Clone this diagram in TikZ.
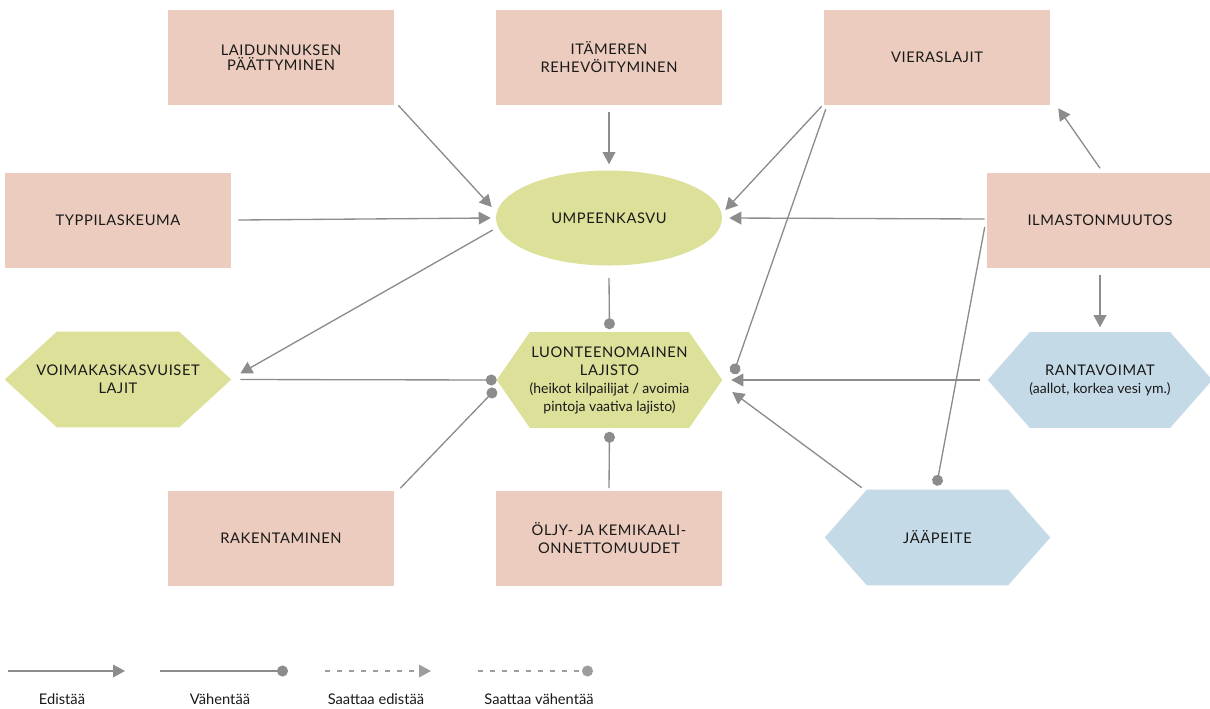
\documentclass[tikz,border=0pt]{standalone}
\usepackage{fontspec}
\setmainfont{Lato}
\newfontfamily\capsfont{Lato}[LetterSpace=4]
\usetikzlibrary{arrows.meta,shapes.geometric,calc,backgrounds}

\definecolor{boxpink}{RGB}{236,204,190}
\definecolor{hexgreen}{RGB}{220,224,152}
\definecolor{hexblue}{RGB}{197,218,231}
\definecolor{linec}{RGB}{140,140,140}
\definecolor{ink}{RGB}{25,25,25}

% lower-case lines inside the capital-letter labels
\newcommand\lowline{\normalfont\fontsize{10.5}{13.5}\selectfont}

% fill a flat-sided hexagon behind a rectangular node; #2 = corner inset in px
\newcommand\hexpanel[3]{%
  \fill[#3] (#1.west) -- ([xshift=#2*0.75pt]#1.north west)
    -- ([xshift=-#2*0.75pt]#1.north east) -- (#1.east)
    -- ([xshift=-#2*0.75pt]#1.south east)
    -- ([xshift=#2*0.75pt]#1.south west) -- cycle;}

\begin{document}
\begin{tikzpicture}[x=0.75pt,y=-0.75pt,
  txt/.style={font=\capsfont\fontsize{11}{13.5}\selectfont, text=ink, align=center},
  box/.style={txt, rectangle, fill=boxpink, minimum width=169.5pt,
              minimum height=71.25pt, inner sep=0pt},
  oval/.style={txt, ellipse, fill=hexgreen, minimum width=169.5pt,
               minimum height=71.25pt, inner sep=0pt},
  hexarea/.style={txt, rectangle, minimum height=71.25pt, inner sep=0pt},
  legtxt/.style={font=\fontsize{11}{13}\selectfont, text=ink},
  link/.style={draw=linec, line width=1pt},
  boost/.style={link, -{Triangle[length=9pt,width=9.5pt]}},
  cut/.style={link, -{Circle[length=8.25pt]}},
  maybe/.style={dash pattern=on 4pt off 5pt, draw=linec!85}
]
\useasboundingbox (0,0) rectangle (1210,708);

% driver boxes
\node[box, font=\capsfont\fontsize{11}{11.5}\selectfont] (lai) at (281,57.5)
  {LAIDUNNUKSEN\\PÄÄTTYMINEN};
\node[box] (ita) at (609,57.5)  {ITÄMEREN\\REHEVÖITYMINEN};
\node[box] (vie) at (937,57.5)  {VIERASLAJIT};
\node[box] (typ) at (118,220)   {TYPPILASKEUMA};
\node[box] (ilm) at (1100,220)  {ILMASTONMUUTOS};
\node[box] (rak) at (281,538)   {RAKENTAMINEN};
\node[box] (olj) at (609,538)   {ÖLJY- JA KEMIKAALI-\\ONNETTOMUUDET};

% central process
\node[oval] (ump) at (609,218) {UMPEENKASVU};

% hexagon nodes
\node[hexarea, minimum width=168.75pt] (luo) at (609.5,380)
  {LUONTEENOMAINEN\\LAJISTO\\{\lowline (heikot kilpailijat / avoimia}\\{\lowline pintoja vaativa lajisto)}};
\node[hexarea, minimum width=169.5pt] (voi) at (118,379.5)
  {VOIMAKASKASVUISET\\LAJIT};
\node[hexarea, minimum width=168pt] (ran) at (1100,380)
  {RANTAVOIMAT\\{\lowline (aallot, korkea vesi ym.)}};
\node[hexarea, minimum width=168.75pt] (jaa) at (937.5,537.5) {JÄÄPEITE};

\begin{scope}[on background layer]
  \hexpanel{luo}{33}{hexgreen}
  \hexpanel{voi}{52}{hexgreen}
  \hexpanel{ran}{42}{hexblue}
  \hexpanel{jaa}{42}{hexblue}
\end{scope}

% effects
\draw[boost] ([shift={(4,0)}]lai.south east) -- ([shift={(-4,-11)}]ump.west);
\draw[boost] ([shift={(0,7)}]ita.south) -- ([shift={(0,-6)}]ump.north);
\draw[boost] ([shift={(7,0)}]typ.east) -- ([shift={(-5,0)}]ump.west);
\draw[boost] ([shift={(-2,1)}]vie.south west) -- ([shift={(3,-8)}]ump.east);
\draw[cut]   ([shift={(2,4)}]vie.south west) -- ([shift={(11,-6)}]luo.east);
\draw[boost] ([shift={(-2,-1)}]ilm.west) -- ([shift={(7,0)}]ump.east);
\draw[boost] ([shift={(0,-4)}]ilm.north) -- ([shift={(8,3)}]vie.south east);
\draw[boost] ([shift={(0,7)}]ilm.south) -- ([shift={(0,-5)}]ran.north);
\draw[cut]   ([shift={(-2,7)}]ilm.west) -- ([shift={(-1,-4)}]jaa.north);
\draw[cut]   ([shift={(0,12)}]ump.south) -- ([shift={(0,-3)}]luo.north);
\draw[boost] ([shift={(-3,12)}]ump.west) -- ([shift={(9,-6)}]voi.east);
\draw[cut]   ([shift={(9,0)}]voi.east) -- (luo.west);
\draw[cut]   ([shift={(6,-2)}]rak.north east) -- ([shift={(-1,9)}]luo.west);
\draw[cut]   ([shift={(0,-2)}]olj.north) -- ([shift={(0,4)}]luo.south);
\draw[boost] ([shift={(-8,0)}]ran.west) -- ([shift={(9,0)}]luo.east);
\draw[boost] ([shift={(37,-2)}]jaa.north west) -- ([shift={(10,12)}]luo.east);

% legend
\coordinate (l1a) at (8,671);   \coordinate (l1b) at (125,671);
\coordinate (l2a) at (160,671); \coordinate (l2b) at (288,671);
\coordinate (l3a) at (325,671); \coordinate (l3b) at (431,671);
\coordinate (l4a) at (478,671); \coordinate (l4b) at (593,671);
\draw[boost] (l1a) -- (l1b);
\draw[cut] (l2a) -- (l2b);
\draw[boost, maybe] (l3a) -- (l3b);
\draw[cut, maybe] (l4a) -- (l4b);
\node[legtxt] (l1t) at (62,699)  {Edistää};
\node[legtxt] (l2t) at (220,699) {Vähentää};
\node[legtxt] (l3t) at (376,699) {Saattaa edistää};
\node[legtxt] (l4t) at (539,699) {Saattaa vähentää};
\end{tikzpicture}
\end{document}
